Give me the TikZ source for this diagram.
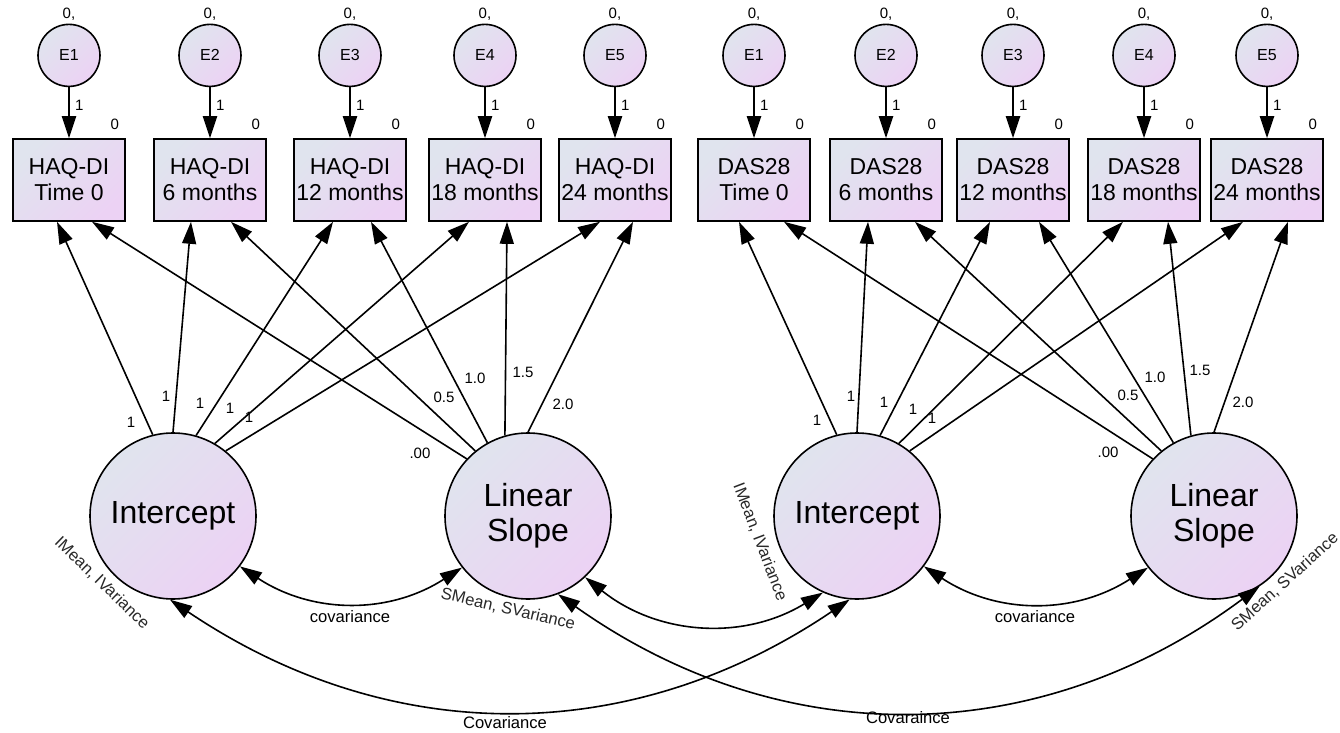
\documentclass[tikz,border=0pt]{standalone}
\usepackage{fontspec}
\setmainfont{Liberation Sans}
\usepackage{xcolor}
\usepackage{tikz}
\usetikzlibrary{positioning}
\usetikzlibrary{arrows.meta}

\definecolor{shadetop}{RGB}{224,228,238}
\definecolor{shadebot}{RGB}{236,210,244}
\definecolor{labelgray}{RGB}{40,40,40}

\tikzset{
	obs/.style={draw, line width=0.8pt, minimum width=56pt, minimum height=41pt,
		inner sep=0pt, top color=shadetop, bottom color=shadebot, shading angle=45,
		align=center, font=\fontsize{11.5}{13}\selectfont},
	err/.style={draw, circle, line width=0.8pt, minimum size=31pt, inner sep=0pt,
		top color=shadetop, bottom color=shadebot, shading angle=45,
		font=\fontsize{8}{9}\selectfont},
	lat/.style={draw, circle, line width=0.8pt, minimum size=83pt, inner sep=0pt,
		top color=shadetop, bottom color=shadebot, shading angle=45,
		align=center, font=\fontsize{16}{17.5}\selectfont},
	path/.style={-{Triangle[length=11pt,width=7pt]}, line width=0.8pt},
	errpath/.style={-{Triangle[length=11pt,width=7pt]}, line width=1.2pt},
	cov/.style={{Triangle[length=11pt,width=7pt]}-{Triangle[length=11pt,width=7pt]}, line width=0.8pt},
	small/.style={inner sep=0pt, font=\fontsize{7.5}{8}\selectfont},
	covlabel/.style={inner sep=0pt, font=\fontsize{8.3}{9}\selectfont},
	parlabel/.style={inner sep=0pt, text=labelgray, font=\fontsize{8.3}{9}\selectfont}
}

\begin{document}
\begin{tikzpicture}[x=0.5pt,y=-0.5pt]
	\useasboundingbox (0,0) rectangle (1340,733);

	% measured variables with their errors
	\foreach \n/\x/\t in {1/69/Time 0, 2/210/6 months, 3/350/12 months, 4/485/18 months, 5/615/24 months}{
		\node[obs] (hb\n) at (\x,180) {HAQ-DI\\\t};
		\node[err, above=25.5pt of hb\n] (he\n) {E\n};
		\node[small, anchor=base] (hm\n) at ([yshift=2.5pt]he\n.north) {0,};
		\node[small] (hi\n) at ([xshift=-5.5pt,yshift=7pt]hb\n.north east) {0};
		\draw[errpath] (he\n) -- (hb\n) node[small, pos=0.35, right=2.5pt] {1};
	}
	\foreach \n/\x/\t in {1/754/Time 0, 2/886/6 months, 3/1013/12 months, 4/1144/18 months, 5/1267/24 months}{
		\node[obs] (db\n) at (\x,180) {DAS28\\\t};
		\node[err, above=25.5pt of db\n] (de\n) {E\n};
		\node[small, anchor=base] (dm\n) at ([yshift=2.5pt]de\n.north) {0,};
		\node[small] (di\n) at ([xshift=-5.5pt,yshift=7pt]db\n.north east) {0};
		\draw[errpath] (de\n) -- (db\n) node[small, pos=0.35, right=2.5pt] {1};
	}

	% growth factors
	\node[lat] (hint) at (173,516) {Intercept};
	\node[lat] (hslp) at (528,516) {Linear\\Slope};
	\node[lat] (dint) at (857,516) {Intercept};
	\node[lat] (dslp) at (1214,516) {Linear\\Slope};

	% loadings
	\foreach \n/\a/\s/\b/\t in {1/104/-6pt/137/11.5pt, 2/90/-9.5pt/129/10.5pt, 3/74/-8.5pt/119/10.5pt,
			4/60/-8pt/106/11pt, 5/51/-7.5pt/90/9pt}{
		\draw[path] (hint.\a) -- ([xshift=\s]hb\n.south);
		\draw[path] (hslp.\b) -- ([xshift=\t]hb\n.south);
	}
	\foreach \n/\a/\s/\b/\t in {1/104/-7.5pt/137/15pt, 2/90/-9pt/129/14.5pt, 3/74/-11.5pt/119/13pt,
			4/60/-10.5pt/106/12pt, 5/51/-12pt/90/10.5pt}{
		\draw[path] (dint.\a) -- ([xshift=\s]db\n.south);
		\draw[path] (dslp.\b) -- ([xshift=\t]db\n.south);
	}

	% loading values
	\foreach \x/\y/\v in {131/422/1, 166/396/1, 200/403/1, 230/408/1, 249/417/1,
			420/453/.00, 444/397/0.5, 475/378/1.0, 523/372/1.5, 563/404/2.0,
			817/420/1, 851/396/1, 884/402/1, 913/409/1, 932/418/1,
			1108/452/.00, 1128/395/0.5, 1155/377/1.0, 1200/370/1.5, 1243/402/2.0}
		\node[small] at (\x,\y) {\v};

	% means and variances
	\node[parlabel, rotate=-44] (hipar) at (102,583) {IMean, IVariance};
	\node[parlabel, rotate=-13] (hspar) at (508,609) {SMean, SVariance};
	\node[parlabel, rotate=-69] (dipar) at (760,542) {IMean, IVariance};
	\node[parlabel, rotate=42] (dspar) at (1285,582) {SMean, SVariance};

	% covariances
	\draw[cov] (hint.-37) to[bend right=33] (hslp.218);
	\node[covlabel] (hcov) at (350,617) {covariance};
	\draw[cov] (dint.-37) to[bend right=33] (dslp.218);
	\node[covlabel] (dcov) at (1035,617) {covariance};
	\draw[cov] (hslp.-47) to[bend right=35] (dint.246);
	\draw[cov] (hint.-92) to[bend right=34] (dint.-95);
	\node[covlabel] (icov) at (505,723) {Covariance};
	\draw[cov] (hslp.-69) to[bend right=36] (dslp.-57);
	\node[covlabel] (scov) at (908,718) {Covaraince};
\end{tikzpicture}
\end{document}
